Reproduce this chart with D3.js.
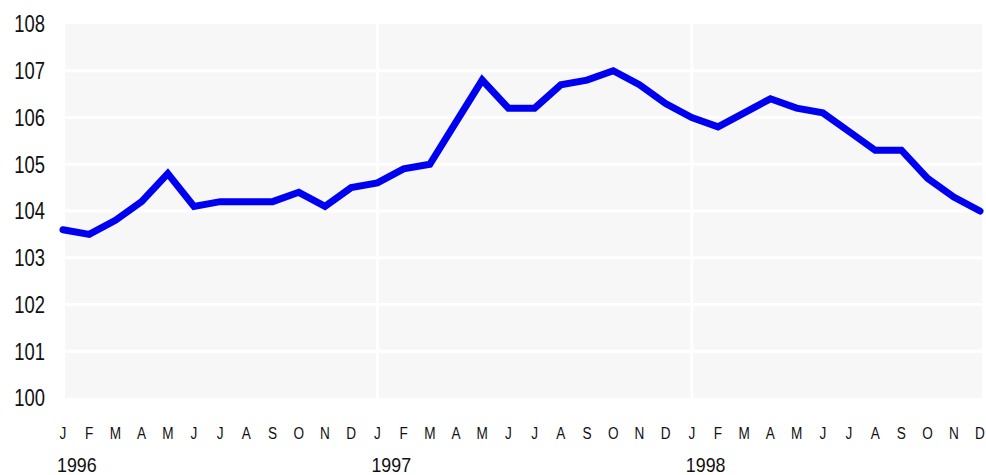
<!DOCTYPE html>
<html>
<head>
<meta charset="utf-8">
<script src="https://cdn.jsdelivr.net/npm/d3@7"></script>
<style>
  body { margin: 0; background: #fff; }
  text { font-family: "Liberation Sans", Arial, sans-serif; fill: #111; }
</style>
</head>
<body>
<script>
// monthly index values, Jan 1996 .. Dec 1998
const years = ["1996", "1997", "1998"];
const monthLetters = ["J", "F", "M", "A", "M", "J", "J", "A", "S", "O", "N", "D"];
const values1996 = [103.6, 103.5, 103.8, 104.2, 104.8, 104.1, 104.2, 104.2, 104.2, 104.4, 104.1, 104.5];
const values1997 = [104.6, 104.9, 105.0, 105.9, 106.8, 106.2, 106.2, 106.7, 106.8, 107.0, 106.7, 106.3];
const values1998 = [106.0, 105.8, 106.1, 106.4, 106.2, 106.1, 105.7, 105.3, 105.3, 104.7, 104.3, 104.0];
const yTicks = [100, 101, 102, 103, 104, 105, 106, 107, 108];

const values = values1996.concat(values1997, values1998);

var width = 986, height = 475;
var squeeze = 0.8; // fake a condensed face
var svg = d3.select("body").append("svg")
    .attr("width", width)
    .attr("height", height);

var x = d3.scaleLinear().domain([0, values.length - 1]).range([63, 980]);
var y = d3.scaleLinear().domain([100, 108]).range([398, 24]);

// plot background
svg.append("rect")
    .attr("x", 65).attr("y", y(108))
    .attr("width", 982 - 65).attr("height", y(100) - y(108))
    .attr("fill", "#f7f7f7");

// white grid lines
svg.selectAll(".hgrid")
  .data(yTicks.slice(1, -1))
  .enter().append("line")
    .attr("x1", 65).attr("x2", 982)
    .attr("y1", d => y(d)).attr("y2", d => y(d))
    .attr("stroke", "#fff").attr("stroke-width", 3);

svg.selectAll(".vgrid")
  .data([12, 24])
  .enter().append("line")
    .attr("x1", d => x(d)).attr("x2", d => x(d))
    .attr("y1", y(108)).attr("y2", y(100))
    .attr("stroke", "#fff").attr("stroke-width", 3);

// y labels
svg.selectAll(".ylab")
  .data(yTicks)
  .enter().append("g")
    .attr("transform", d => "translate(45," + y(d) + ") scale(" + squeeze + ",1)")
  .append("text")
    .attr("dy", "0.36em")
    .attr("text-anchor", "end")
    .style("font-size", "23px")
    .text(d => d);

// month letters
svg.selectAll(".mlab")
  .data(values)
  .enter().append("g")
    .attr("transform", (d, i) => "translate(" + x(i) + ",433) scale(" + squeeze + ",1)")
  .append("text")
    .attr("dy", "0.36em")
    .attr("text-anchor", "middle")
    .style("font-size", "17px")
    .text((d, i) => monthLetters[i % 12]);

// year labels
svg.selectAll(".yrlab")
  .data(years)
  .enter().append("g")
    .attr("transform", (d, i) => "translate(" + (x(i * 12) - 6) + ",464) scale(0.85,1)")
  .append("text")
    .attr("dy", "0.36em")
    .style("font-size", "21px")
    .text(d => d);

// the line
var line = d3.line()
    .x((d, i) => x(i))
    .y(d => y(d));

svg.append("path")
    .datum(values)
    .attr("d", line)
    .attr("fill", "none")
    .attr("stroke", "#0000f0")
    .attr("stroke-width", 7)
    .attr("stroke-linejoin", "miter")
    .attr("stroke-linecap", "round");
</script>
</body>
</html>
